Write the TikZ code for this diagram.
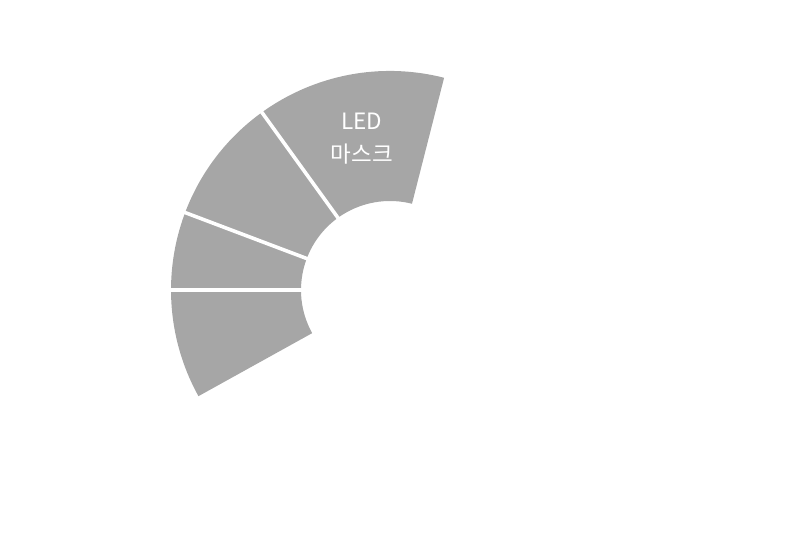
\documentclass[tikz,border=0pt]{standalone}
\usepackage{fontspec}
\newfontfamily\krfont{Noto Sans CJK KR}
\definecolor{segfill}{HTML}{A6A6A6}
\tikzset{
  segment/.style={fill=segfill, draw=none},
  sepline/.style={draw=white, line width=3.6pt},
  seglabel/.style={text=white, align=center, font=\krfont\fontsize{22.5pt}{33pt}\selectfont}
}
\begin{document}
\begin{tikzpicture}[x=1pt,y=1pt]
\useasboundingbox (0,0) rectangle (800,540);
\coordinate (c) at (390,250);
\def\Ro{219}
\def\Ri{89}
% annular sector
\fill[segment] ([shift={(75.7:\Ro)}]c) arc[start angle=75.7, end angle=209, radius=\Ro]
  -- ([shift={(209:\Ri)}]c) arc[start angle=209, end angle=75.7, radius=\Ri] -- cycle;
% separators
\foreach \a in {125.8,159.3,180}{
  \draw[sepline] ([shift={(\a:\Ri-3)}]c) -- ([shift={(\a:\Ro+3)}]c);
}
\node[seglabel] (led) at (362,401) {LED\\마스크};
\end{tikzpicture}
\end{document}
